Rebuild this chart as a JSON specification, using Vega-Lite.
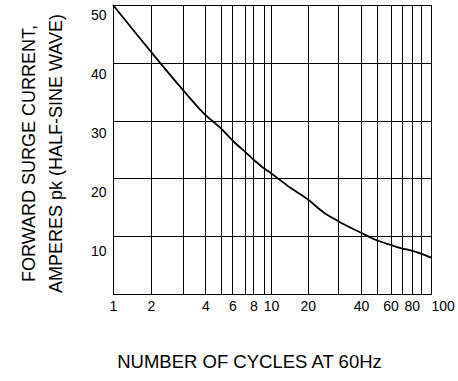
{
  "$schema": "https://vega.github.io/schema/vega-lite/v6.json",
  "width": 318,
  "height": 289,
  "autosize": {"type": "none"},
  "padding": {"left": 113, "top": 5, "right": 27, "bottom": 87},
  "background": "white",
  "config": {
    "view": {"stroke": "#000", "strokeWidth": 1},
    "font": "Liberation Sans"
  },
  "data": {
    "values": [
      {"cycles": 1, "amps": 50},
      {"cycles": 2, "amps": 41.9},
      {"cycles": 3, "amps": 35.4},
      {"cycles": 4, "amps": 31.0},
      {"cycles": 5, "amps": 28.7},
      {"cycles": 6, "amps": 26.6},
      {"cycles": 7, "amps": 24.6},
      {"cycles": 8, "amps": 23.3},
      {"cycles": 9, "amps": 21.7},
      {"cycles": 10, "amps": 20.9},
      {"cycles": 15, "amps": 18.5},
      {"cycles": 20, "amps": 16.4},
      {"cycles": 25, "amps": 14.2},
      {"cycles": 30, "amps": 12.6},
      {"cycles": 40, "amps": 10.6},
      {"cycles": 50, "amps": 9.3},
      {"cycles": 60, "amps": 8.5},
      {"cycles": 70, "amps": 7.9},
      {"cycles": 80, "amps": 7.5},
      {"cycles": 90, "amps": 7.0},
      {"cycles": 100, "amps": 6.3}
    ]
  },
  "mark": {"type": "line", "color": "#000", "strokeWidth": 1.8, "interpolate": "monotone"},
  "encoding": {
    "x": {
      "field": "cycles",
      "type": "quantitative",
      "scale": {
        "domain": [1, 2, 3, 4, 5, 6, 7, 8, 9, 10, 20, 30, 40, 50, 60, 70, 80, 90, 100],
        "range": [0, 38, 69.5, 92.3, 107.7, 119.3, 132, 140.3, 151.3, 158, 194.7, 225.3, 248, 263.7, 277.5, 288.7, 298.7, 308, 318]
      },
      "axis": {
        "values": [1, 2, 3, 4, 5, 6, 7, 8, 9, 10, 20, 30, 40, 50, 60, 70, 80, 90, 100],
        "labelExpr": "indexof([3,5,7,9,30,50,70,90], datum.value) >= 0 ? '' : datum.label",
        "grid": true,
        "gridColor": "#000",
        "gridWidth": 1,
        "gridOpacity": 1,
        "ticks": false,
        "domain": false,
        "labelFontSize": 14,
        "labelColor": "#000",
        "labelPadding": 5,
        "labelFlush": false,
        "labelOverlap": false,
        "labelAlign": {"expr": "datum.value == 100 ? 'left' : 'center'"},
        "title": "NUMBER OF CYCLES AT 60Hz",
        "titleFontSize": 18.5,
        "titleFontWeight": "normal",
        "titleColor": "#000",
        "titleX": 136,
        "titleY": 58,
        "titleBaseline": "top"
      }
    },
    "y": {
      "field": "amps",
      "type": "quantitative",
      "scale": {"domain": [0, 50], "nice": false},
      "axis": {
        "values": [10, 20, 30, 40, 50],
        "grid": true,
        "gridColor": "#000",
        "gridWidth": 1,
        "gridOpacity": 1,
        "ticks": false,
        "domain": false,
        "labelFontSize": 14,
        "labelColor": "#000",
        "labelPadding": 7,
        "labelOffset": {"expr": "10 + (50 - datum.value) * 0.14"},
        "title": ["FORWARD SURGE CURRENT,", "AMPERES pk (HALF-SINE WAVE)"],
        "titleFontSize": 18,
        "titleFontWeight": "normal",
        "titleColor": "#000",
        "titleLineHeight": 27,
        "titleAngle": -90,
        "titleX": -79,
        "titleY": 148,
        "titleAlign": "center",
        "titleBaseline": "alphabetic"
      }
    }
  }
}
